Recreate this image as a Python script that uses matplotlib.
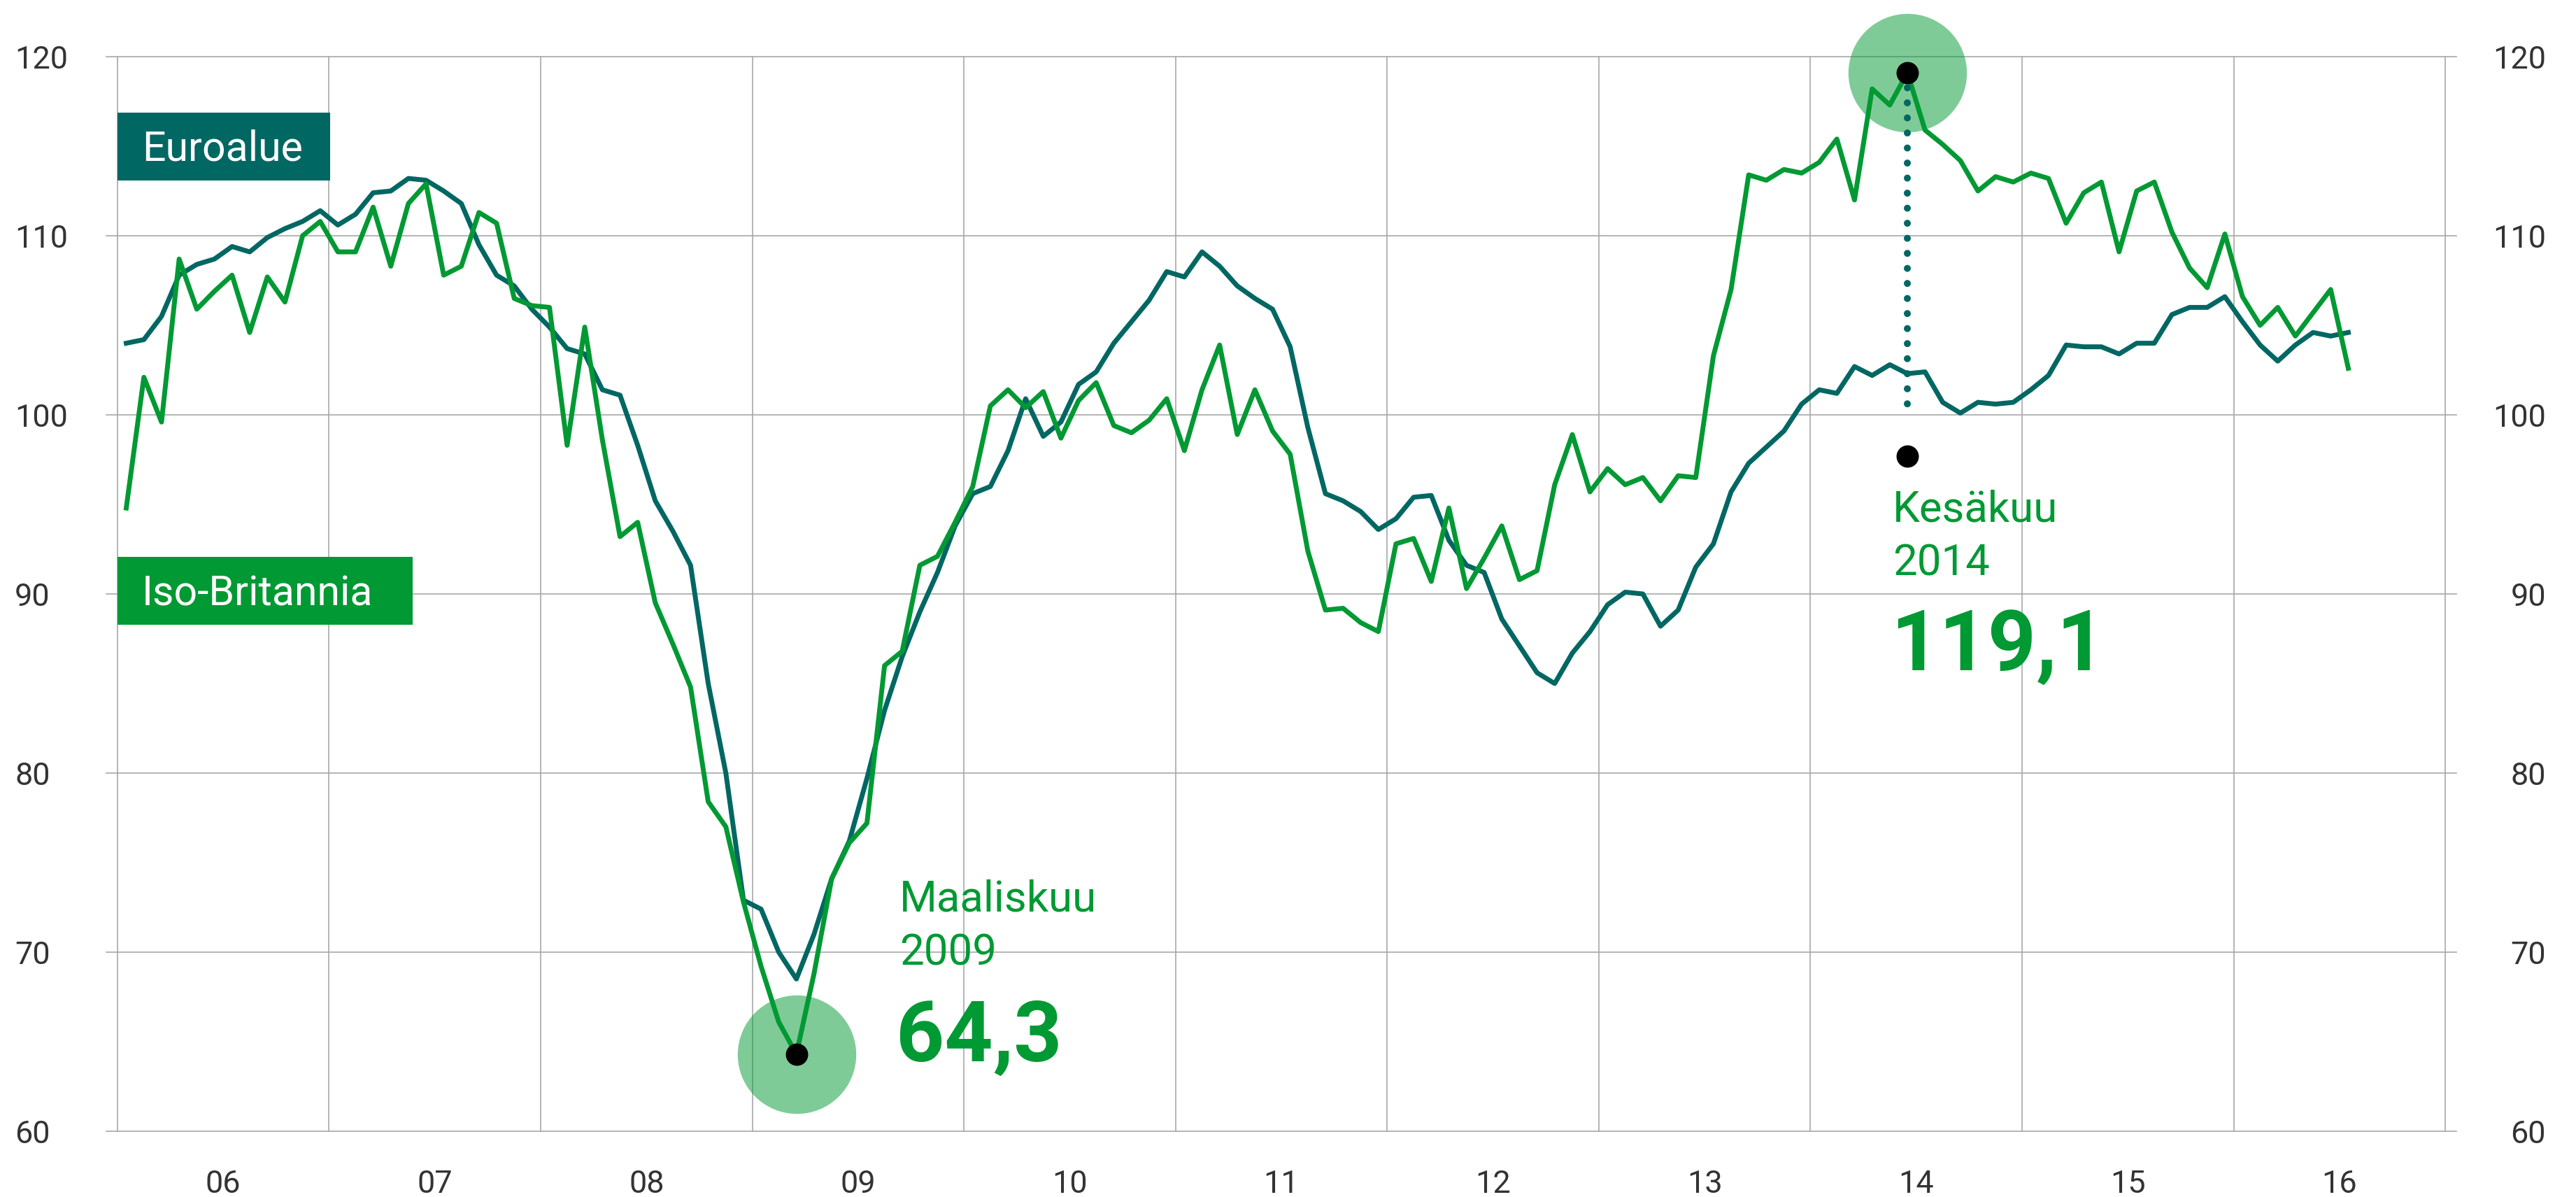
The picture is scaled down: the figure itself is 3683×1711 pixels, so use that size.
import numpy as np
import pandas as pd
import matplotlib
matplotlib.use("Agg")
import matplotlib.pyplot as plt
import matplotlib.patches as patches
import matplotlib.transforms as transforms

plt.rcParams['font.family'] = ['Roboto', 'DejaVu Sans']

# Kuukausittaiset havainnot 1/2006 - 7/2016
months = pd.date_range("2006-01-01", "2016-07-01", freq="MS")
year_labels = ["06", "07", "08", "09", "10", "11", "12", "13", "14", "15", "16"]
y_ticks = [60, 70, 80, 90, 100, 110, 120]

euroalue = [
    104.0, 104.2, 105.5, 107.8, 108.4, 108.7, 109.4, 109.1, 109.9, 110.4, 110.8, 111.4,
    110.6, 111.2, 112.4, 112.5, 113.2, 113.1, 112.5, 111.8, 109.5, 107.8, 107.2, 105.9,
    104.9, 103.7, 103.4, 101.4, 101.1, 98.3, 95.2, 93.5, 91.6, 85.0, 80.0, 72.9,
    72.4, 70.0, 68.5, 71.0, 74.1, 76.2, 79.7, 83.5, 86.5, 89.0, 91.2, 93.8,
    95.6, 96.0, 98.0, 100.9, 98.8, 99.6, 101.7, 102.4, 104.0, 105.2, 106.4, 108.0,
    107.7, 109.1, 108.3, 107.2, 106.5, 105.9, 103.8, 99.3, 95.6, 95.2, 94.6, 93.6,
    94.2, 95.4, 95.5, 93.0, 91.6, 91.2, 88.6, 87.1, 85.6, 85.0, 86.7, 87.9,
    89.4, 90.1, 90.0, 88.2, 89.1, 91.5, 92.8, 95.7, 97.3, 98.2, 99.1, 100.6,
    101.4, 101.2, 102.7, 102.2, 102.8, 102.3, 102.4, 100.7, 100.1, 100.7, 100.6, 100.7,
    101.4, 102.2, 103.9, 103.8, 103.8, 103.4, 104.0, 104.0, 105.6, 106.0, 106.0, 106.6,
    105.2, 103.9, 103.0, 103.9, 104.6, 104.4, 104.6,
]

iso_britannia = [
    94.8, 102.1, 99.6, 108.7, 105.9, 106.9, 107.8, 104.6, 107.7, 106.3, 110.0, 110.8,
    109.1, 109.1, 111.6, 108.3, 111.8, 112.9, 107.8, 108.3, 111.3, 110.7, 106.5, 106.1,
    106.0, 98.3, 104.9, 98.6, 93.2, 94.0, 89.5, 87.2, 84.8, 78.4, 77.0, 72.8,
    69.2, 66.1, 64.3, 68.8, 74.1, 76.1, 77.2, 86.0, 86.8, 91.6, 92.1, 94.0,
    96.0, 100.5, 101.4, 100.4, 101.3, 98.7, 100.8, 101.8, 99.4, 99.0, 99.7, 100.9,
    98.0, 101.4, 103.9, 98.9, 101.4, 99.1, 97.8, 92.4, 89.1, 89.2, 88.4, 87.9,
    92.8, 93.1, 90.7, 94.8, 90.3, 92.0, 93.8, 90.8, 91.3, 96.1, 98.9, 95.7,
    97.0, 96.1, 96.5, 95.2, 96.6, 96.5, 103.3, 107.0, 113.4, 113.1, 113.7, 113.5,
    114.1, 115.4, 112.0, 118.2, 117.3, 119.1, 115.9, 115.1, 114.2, 112.5, 113.3, 113.0,
    113.5, 113.2, 110.7, 112.4, 113.0, 109.1, 112.5, 113.0, 110.2, 108.2, 107.1, 110.1,
    106.6, 105.0, 106.0, 104.4, 105.7, 107.0, 102.6,
]

# Merkityt pisteet
low_date, low_value = "2009-03-01", 64.3
high_date, high_value = "2014-06-01", 119.1

TEAL = "#006763"
GREEN = "#009933"
GRID = "#a8a8a8"
TEXT = "#333333"

W, H = 3683, 1711
fig = plt.figure(figsize=(W / 100, H / 100), dpi=100)
ax = fig.add_axes([152 / W, 94 / H, 3360 / W, 1536 / H])

# kuukausi -> x (keskellä kuukautta)
def month_pos(d):
    d = pd.Timestamp(d)
    return (d.year - 2006) * 12 + d.month - 0.5

x = (months.year - 2006) * 12 + months.month - 0.5

ax.set_xlim(-0.63, 132.63)
ax.set_ylim(60, 120)

# Ruudukko
ax.set_xticks(np.arange(0, 133, 12), minor=True)
ax.set_xticks(np.arange(6, 132, 12))
ax.set_xticklabels(year_labels)
ax.set_yticks(y_ticks)
ax.set_yticklabels([])
ax.tick_params(axis='both', which='both', length=0)
ax.tick_params(axis='x', which='major', pad=39.5, labelsize=32.4, labelcolor=TEXT)
ax.grid(True, axis='x', which='minor', color=GRID, lw=1.2)
ax.grid(True, axis='y', which='major', color=GRID, lw=1.2)
ax.grid(False, axis='x', which='major')
for t in ax.xaxis.get_minor_ticks() + ax.yaxis.get_major_ticks():
    t.gridline.set_clip_on(False)
for s in ax.spines.values():
    s.set_visible(False)
ax.set_axisbelow(True)

# Y-akselin luvut molemmin puolin
trans = transforms.blended_transform_factory(fig.transFigure, ax.transData)
for v in y_ticks:
    ax.text(21 / W, v, str(v), transform=trans, ha='left', va='center_baseline',
            fontsize=32.4, color=TEXT)
    ax.text(3640 / W, v, str(v), transform=trans, ha='right', va='center_baseline',
            fontsize=32.4, color=TEXT)

# Sarjat
ax.plot(x, euroalue, color=TEAL, lw=5, zorder=3)
ax.plot(x, iso_britannia, color=GREEN, lw=5, zorder=3)

# Ääripisteet
xl = month_pos(low_date)
xh = month_pos(high_date)
for xp, yp in [(xl, low_value), (xh, high_value)]:
    ax.plot(xp, yp, 'o', ms=122, color=GREEN, alpha=0.5, mew=0, zorder=2, clip_on=False)
    ax.plot(xp, yp, 'o', ms=23, color='black', mew=0, zorder=5, clip_on=False)

ax.plot([xh, xh], [high_value, 99.8], color=TEAL, lw=7.2,
        linestyle=(0, (0.001, 2.15)), dash_capstyle='round', zorder=4)
ax.plot(xh, 97.7, 'o', ms=23, color='black', mew=0, zorder=5)

ax.text(xl + 5.85, 72.27, "Maaliskuu", color=GREEN, fontsize=44.5, va='baseline')
ax.text(xl + 5.85, 69.26, "2009", color=GREEN, fontsize=44.5, va='baseline')
ax.text(xl + 5.65, 63.9, "64,3", color=GREEN, fontsize=87, fontweight='bold', va='baseline')

ax.text(xh - 0.85, 94.06, "Kesäkuu", color=GREEN, fontsize=44.5, va='baseline')
ax.text(xh - 0.85, 91.05, "2014", color=GREEN, fontsize=44.5, va='baseline')
ax.text(xh - 0.95, 85.74, "119,1", color=GREEN, fontsize=87, fontweight='bold', va='baseline')

# Sarjojen nimet laatikoissa
fig.add_artist(patches.Rectangle((168 / W, 1 - 258 / H), 304 / W, 97 / H,
                                 transform=fig.transFigure, color=TEAL, lw=0))
fig.text(203 / W, 1 - 230 / H, "Euroalue", color='white', fontsize=42.5, va='baseline')
fig.add_artist(patches.Rectangle((168 / W, 1 - 893 / H), 422 / W, 97 / H,
                                 transform=fig.transFigure, color=GREEN, lw=0))
fig.text(203 / W, 1 - 866 / H, "Iso-Britannia", color='white', fontsize=42.5, va='baseline')

fig.savefig("out.png", dpi=100)
